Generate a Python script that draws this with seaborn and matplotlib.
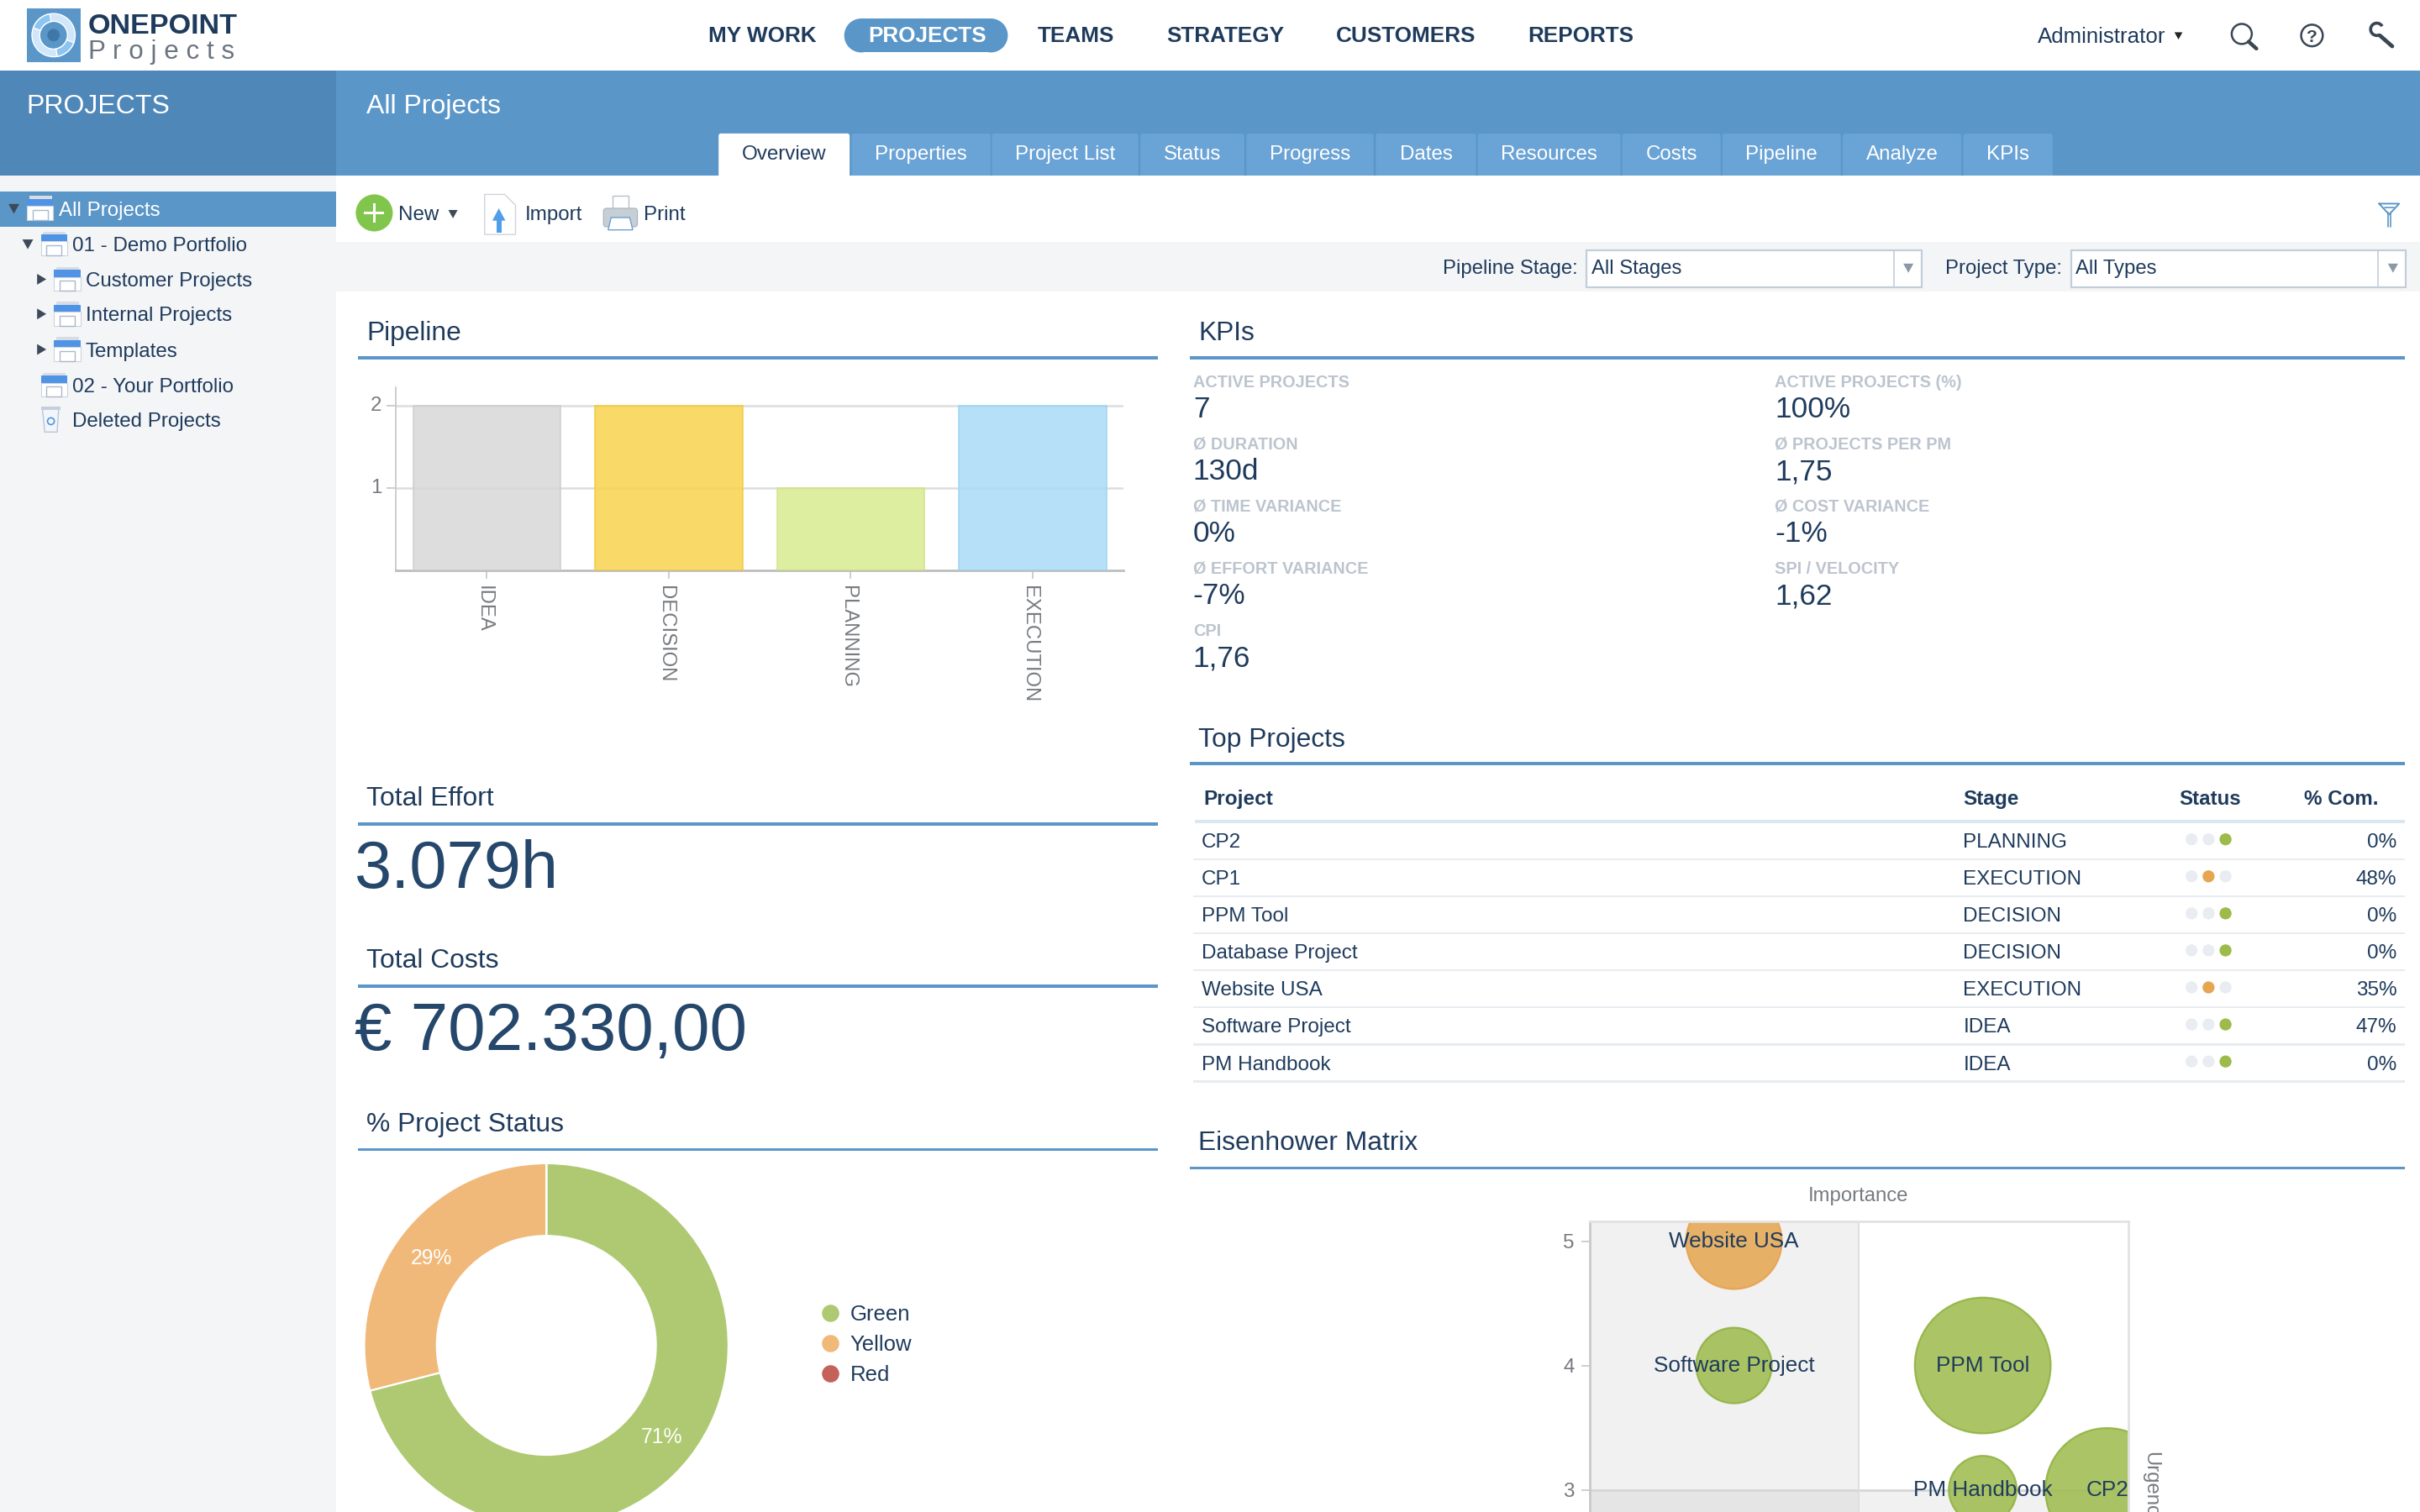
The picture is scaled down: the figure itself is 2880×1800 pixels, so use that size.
import matplotlib
matplotlib.use('Agg')
import matplotlib.pyplot as plt
from matplotlib.lines import Line2D
from matplotlib.patches import Circle, FancyBboxPatch, Polygon, Rectangle, Wedge
from matplotlib.transforms import ScaledTranslation
import pandas as pd
import seaborn as sns

# Chart data
pipeline_stages = ['IDEA', 'DECISION', 'PLANNING', 'EXECUTION']
pipeline_counts = [2, 2, 1, 2]

status_names = ['Green', 'Yellow', 'Red']
status_shares = [71, 29, 0]

matrix_projects = ['Website USA', 'Software Project', 'PPM Tool', 'PM Handbook', 'CP2']
matrix_importance = [2, 2, 4, 4, 5]
matrix_urgency = [5, 4, 4, 3, 3]
matrix_bubble = [31, 24.5, 44, 22, 40]
matrix_status = ['Yellow', 'Green', 'Green', 'Green', 'Green']

table_projects = ['CP2', 'CP1', 'PPM Tool', 'Database Project', 'Website USA', 'Software Project', 'PM Handbook']
table_stages = ['PLANNING', 'EXECUTION', 'DECISION', 'DECISION', 'EXECUTION', 'IDEA', 'IDEA']
table_status = ['Green', 'Yellow', 'Green', 'Green', 'Yellow', 'Green', 'Green']
table_complete = ['0%', '48%', '0%', '0%', '35%', '47%', '0%']

kpi_left_labels = ['ACTIVE PROJECTS', 'Ø DURATION', 'Ø TIME VARIANCE', 'Ø EFFORT VARIANCE', 'CPI']
kpi_left_values = ['7', '130d', '0%', '-7%', '1,76']
kpi_right_labels = ['ACTIVE PROJECTS (%)', 'Ø PROJECTS PER PM', 'Ø COST VARIANCE', 'SPI / VELOCITY']
kpi_right_values = ['100%', '1,75', '-1%', '1,62']

nav_items = ['MY WORK', 'PROJECTS', 'TEAMS', 'STRATEGY', 'CUSTOMERS', 'REPORTS']
tab_names = ['Overview', 'Properties', 'Project List', 'Status', 'Progress', 'Dates',
             'Resources', 'Costs', 'Pipeline', 'Analyze', 'KPIs']
tree_items = ['All Projects', '01 - Demo Portfolio', 'Customer Projects', 'Internal Projects',
              'Templates', '02 - Your Portfolio', 'Deleted Projects']

# Layout is measured on a 1568 x 980 grid, same ratio as the output
W, H = 1568, 980
NAVY = '#1f3b5c'
BLUE = '#5a96c8'
GREY = '#777b80'

sns.set_theme(style='white')
plt.rcParams['font.family'] = ['Liberation Sans', 'DejaVu Sans']

fig = plt.figure(figsize=(14.4, 9), dpi=200, facecolor='white')
bg = fig.add_axes([0, 0, 1, 1])
bg.set_xlim(0, W)
bg.set_ylim(H, 0)
bg.axis('off')


def axes_at(x0, y0, x1, y1):
    return fig.add_axes([x0 / W, 1 - y1 / H, (x1 - x0) / W, (y1 - y0) / H])


def label(x, y, s, size=8.7, color=NAVY, weight='normal', ha='left'):
    # y is the visual middle of the capitals
    bg.text(x, y + 0.36 * size / 0.661, s, fontsize=size, color=color, fontweight=weight,
            ha=ha, va='baseline')


def box(x0, y0, x1, y1, color, **kw):
    bg.add_patch(Rectangle((x0, y0), x1 - x0, y1 - y0, facecolor=color, edgecolor='none', **kw))


def heading(text, x0, x1, y_text, y_rule):
    label(x0 + 5.5, y_text, text, size=11.45)
    box(x0, y_rule - 1, x1, y_rule + 1, BLUE)


def folder(x, y):
    box(x + 1.5, y, x + 16, y + 3, '#d9dde3')
    box(x, y + 2, x + 17, y + 6.5, '#4f93e6')
    bg.add_patch(Rectangle((x, y + 6.5), 17, 9, facecolor='white', edgecolor='#ccd3dc', lw=0.4))
    bg.add_patch(Rectangle((x + 3.5, y + 9), 10, 6.5, facecolor='none', edgecolor='#a9b9cc', lw=0.5))


def triangle(x, y, down=True, color='#3d4a59', s=3.5):
    if down:
        pts = [(x - s, y - s * 0.8), (x + s, y - s * 0.8), (x, y + s)]
    else:
        pts = [(x - s * 0.7, y - s), (x - s * 0.7, y + s), (x + s, y)]
    bg.add_patch(Polygon(pts, facecolor=color, edgecolor='none'))


def nudge(tick_label, dx, dy):
    # shift a tick label by grid units
    shift = ScaledTranslation(dx * 14.4 / W, -dy * 9 / H, fig.dpi_scale_trans)
    tick_label.set_transform(tick_label.get_transform() + shift)


# Page backgrounds
box(0, 46, W, 114, BLUE)
box(0, 46, 218, 114, '#4f88b8')
box(0, 114, 218, H, '#f4f5f7')
box(218, 157, W, 189, '#f4f5f7')

# Logo
box(17.4, 5.4, 52, 40.3, BLUE)
bg.add_patch(Wedge((34.7, 22.8), 14, 0, 360, width=5, facecolor='#cfe6fb', edgecolor='white', lw=0.5))
bg.add_patch(Wedge((34.7, 22.8), 14, 20, 80, width=5, facecolor='#8cc4f2', edgecolor='white', lw=0.5))
bg.add_patch(Wedge((34.7, 22.8), 14, 200, 260, width=5, facecolor='#8cc4f2', edgecolor='white', lw=0.5))
bg.add_patch(Circle((34.7, 22.8), 4, facecolor='#3f78a8', edgecolor='none'))
label(57, 15, 'ONEPOINT', size=12.3, weight='bold')
label(57, 32, 'P r o j e c t s', size=11.3, color='#6b7480')

# Top navigation
nav_centers = [494, 601, 697, 794, 911, 1024]
box(558, 12, 642, 34, BLUE)
bg.add_patch(Circle((558, 23), 11, facecolor=BLUE, edgecolor='none'))
bg.add_patch(Circle((642, 23), 11, facecolor=BLUE, edgecolor='none'))
for name, cx in zip(nav_items, nav_centers):
    label(cx, 22, name, size=9.4, weight='bold', color='white' if name == 'PROJECTS' else NAVY, ha='center')

label(1320, 22.5, 'Administrator', size=9.3)
triangle(1411.5, 23, color='#222222', s=2.6)
bg.add_patch(Circle((1452.5, 22), 6.5, facecolor='none', edgecolor='#3a4654', lw=0.9))
bg.add_line(Line2D([1457, 1462], [27, 31.5], color='#3a4654', lw=1.6))
bg.add_patch(Circle((1498, 23), 7, facecolor='none', edgecolor='#3a4654', lw=0.9))
label(1498, 23, '?', size=7.5, color='#3a4654', weight='bold', ha='center')
bg.add_patch(Wedge((1540, 19), 5, 60, 330, width=2, facecolor='#3a4654', edgecolor='none'))
bg.add_line(Line2D([1542, 1550], [23, 30], color='#3a4654', lw=1.7))

# Blue band and tabs
label(17, 67, 'PROJECTS', size=11.5, color='white')
label(237.5, 67, 'All Projects', size=11.5, color='white')
tab_edges = [(465.6, 550.5), (551.8, 641.8), (642.7, 737.6), (738.9, 806.3), (807.5, 890), (891.4, 956.4),
             (957.5, 1050), (1051, 1114.9), (1116, 1192.8), (1194, 1270.8), (1272, 1330)]
for i, (name, (x0, x1)) in enumerate(zip(tab_names, tab_edges)):
    bg.add_patch(FancyBboxPatch((x0, 86.5), x1 - x0, 30, boxstyle='round,pad=0,rounding_size=1.5',
                                facecolor='white' if i == 0 else '#6aa3d5', edgecolor='none'))
    label((x0 + x1) / 2, 98.7, name, size=8.7, color=NAVY if i == 0 else 'white', ha='center')
box(218, 114, W, 157, 'white')

# Project tree
box(0, 124, 218, 147, BLUE)
tree_rows = [135, 158, 181, 203.5, 226.5, 249.5, 272]
tree_text_x = [38, 47, 55.5, 55.5, 55.5, 47, 47]
for name, y, x in zip(tree_items, tree_rows, tree_text_x):
    label(x, y, name, size=8.7, color='white' if name == 'All Projects' else NAVY)
    if name == 'Deleted Projects':
        bg.add_patch(Polygon([(27.5, y - 7), (38, y - 7), (37, y + 8), (29, y + 8)], facecolor='#f2f6fb',
                             edgecolor='#b8c6d6', lw=0.5))
        box(26.5, y - 8.5, 39, y - 6.5, '#c4cfdb')
        bg.add_patch(Circle((33, y + 1), 2.2, facecolor='none', edgecolor='#4f93e6', lw=0.6))
    else:
        folder(x - 20.5, y - 8)
triangle(9, 135)
triangle(18, 158)
for y in tree_rows[2:5]:
    triangle(26.5, y, down=False)

# Toolbar
bg.add_patch(Circle((242.5, 138), 12, facecolor='#80c64c', edgecolor='none'))
box(236, 137, 249, 139, 'white')
box(241.5, 131.5, 243.5, 144.5, 'white')
label(258, 138, 'New')
triangle(293.5, 138.5, s=3)
bg.add_patch(Polygon([(314, 126), (327, 126), (334, 133), (334, 152), (314, 152)], facecolor='white',
                     edgecolor='#cfd4da', lw=0.5))
bg.add_patch(Polygon([(319, 143), (327.5, 143), (323.2, 135)], facecolor='#4f9fe8', edgecolor='none'))
box(321.8, 142, 324.8, 151, '#4f9fe8')
label(340, 138, 'Import')
box(397, 127, 407, 136, 'white')
bg.add_patch(Rectangle((397, 127), 10, 9, facecolor='white', edgecolor='#b9c0c8', lw=0.5))
bg.add_patch(FancyBboxPatch((391, 135), 22, 12, boxstyle='round,pad=0,rounding_size=2', facecolor='#c6ced6',
                            edgecolor='#a9b2bc', lw=0.4))
bg.add_patch(Polygon([(396, 141), (408, 141), (410, 149), (394, 149)], facecolor='white', edgecolor='#6a9fd3', lw=0.5))
label(417, 138, 'Print')
for dx in [0, 1.6]:
    bg.add_line(Line2D([1547.2 + dx, 1547.2 + dx], [138, 147], color=BLUE, lw=0.6))
bg.add_line(Line2D([1541.5, 1548, 1554.5, 1541.5], [132, 139, 132, 132], color=BLUE, lw=0.7))
bg.add_line(Line2D([1545, 1551], [134.5, 134.5], color=BLUE, lw=0.6))

# Filter row
label(1022.5, 172.7, 'Pipeline Stage:', size=8.6, ha='right')
label(1336, 172.7, 'Project Type:', size=8.6, ha='right')
for x0, x1, text in [(1028, 1245, 'All Stages'), (1342, 1559, 'All Types')]:
    bg.add_patch(Rectangle((x0, 162), x1 - x0, 24, facecolor='white', edgecolor='#c3cedb', lw=0.8))
    bg.add_line(Line2D([x1 - 18, x1 - 18], [162, 186], color='#c3cedb', lw=0.6))
    label(x0 + 3, 172.7, text, size=8.6)
    triangle(x1 - 8.5, 173.5, color='#8b98a8', s=3.3)

# Section headings
heading('Pipeline', 232, 750, 214, 232)
heading('Total Effort', 232, 750, 516, 534)
heading('Total Costs', 232, 750, 621, 639)
heading('% Project Status', 232, 750, 727, 745)
heading('KPIs', 771, 1558, 214, 232)
heading('Top Projects', 771, 1558, 478, 495)
heading('Eisenhower Matrix', 771, 1558, 739, 757)

label(230, 560, '3.079h', size=28.6, color='#25476b')
label(230, 665, '€ 702.330,00', size=28.8, color='#25476b')

# KPIs
for i, (name, value) in enumerate(zip(kpi_left_labels, kpi_left_values)):
    label(773, 247 + i * 40.3, name, size=7.15, weight='bold', color='#bcc4ce')
    label(773, 263.8 + i * 40.3, value, size=12.7)
for i, (name, value) in enumerate(zip(kpi_right_labels, kpi_right_values)):
    label(1150, 247 + i * 40.3, name, size=7.15, weight='bold', color='#bcc4ce')
    label(1150, 263.8 + i * 40.3, value, size=12.7)

# Top projects table
label(780, 517, 'Project', size=8.8, weight='bold')
label(1272, 517, 'Stage', size=8.8, weight='bold')
label(1412, 517, 'Status', size=8.7, weight='bold')
label(1493, 517, '% Com.', size=8.7, weight='bold')
box(774, 531.5, 1558, 533.5, '#dce6f0')
dot_colors = {'Green': '#9dbb4b', 'Yellow': '#e5a64f'}
for i, (name, stage, status, done) in enumerate(zip(table_projects, table_stages, table_status, table_complete)):
    y = 545 + i * 24
    label(778.5, y - 0.4, name, size=8.75)
    label(1272, y - 0.4, stage, size=8.75)
    label(1553, y - 0.4, done, size=8.75, ha='right')
    lit = 2 if status == 'Green' else 1
    for k, dot_x in enumerate([1420, 1431, 1442]):
        bg.add_patch(Circle((dot_x, y - 1), 3.9, facecolor=dot_colors[status] if k == lit else '#e9ecf1',
                            edgecolor='none'))
    box(773, y + 11.2, 1558, y + 12.6, '#e8ecf0')

# Pipeline bar chart
pipeline_df = pd.DataFrame({'stage': pipeline_stages, 'count': pipeline_counts})
bar_colors = ['#d8d8d8', '#f8d34e', '#d9eb8f', '#a8dbf7']
bar_edges = ['#cccccc', '#f2c83e', '#cfe285', '#9bd3f2']
ax = axes_at(256.5, 251, 728, 369.5)
ax.patch.set_alpha(0)
sns.barplot(data=pipeline_df, x='stage', y='count', hue='stage', palette=bar_colors, width=0.81,
            saturation=1, alpha=0.85, dodge=False, legend=False, ax=ax, zorder=3)
for patch, edge in zip(ax.patches, bar_edges):
    patch.set_edgecolor(edge)
    patch.set_linewidth(0.6)
ax.set_xlim(-0.5, 3.5)
ax.set_ylim(0, 2.22)
ax.set_yticks([1, 2])
ax.set_xlabel('')
ax.set_ylabel('')
ax.yaxis.grid(True, color='#dddddd', lw=0.9, zorder=0)
ax.set_axisbelow(True)
for side in ['top', 'right']:
    ax.spines[side].set_visible(False)
ax.spines['left'].set_color('#c6c6c6')
ax.spines['left'].set_linewidth(0.6)
ax.spines['bottom'].set_color('#bdbdbd')
ax.spines['bottom'].set_linewidth(1.0)
ax.tick_params(axis='y', left=True, length=4, width=0.6, color='#c6c6c6', labelsize=8.7, labelcolor=GREY, pad=2)
ax.tick_params(axis='x', bottom=True, length=3.5, width=0.6, color='#c6c6c6', labelsize=8.6, labelcolor=GREY, pad=3)
for tick in ax.get_xticklabels():
    tick.set_rotation(-90)
    tick.set_ha('center')
    tick.set_va('top')
    nudge(tick, -2, 0)
for tick in ax.get_yticklabels():
    nudge(tick, 0, -1)

# Project status donut
donut_colors = ['#aec971', '#f0b97a', '#c4625a']
ax = axes_at(354 - 120, 872 - 120, 354 + 120, 872 + 120)
ax.patch.set_alpha(0)
wedges, texts, autotexts = ax.pie(status_shares, colors=donut_colors, startangle=90, counterclock=False,
                                  radius=118 / 120, autopct=lambda p: f'{p:.0f}%' if p > 0 else '',
                                  pctdistance=0.8, wedgeprops={'width': 47 / 120, 'edgecolor': 'white', 'linewidth': 0.8})
for t in autotexts:
    t.set_color('white')
    t.set_fontsize(8.9)
    t.set_y(t.get_position()[1] - 0.0125)
ax.set_xlim(-1, 1)
ax.set_ylim(-1, 1)
handles = [Line2D([], [], linestyle='none', marker='o', markersize=6.4, color=c) for c in donut_colors]
ax.legend(handles, status_names, loc='center left', bbox_to_anchor=(531 / W, 1 - 871.5 / H),
          bbox_transform=fig.transFigure, frameon=False, fontsize=9.25, labelcolor=NAVY, borderpad=0,
          borderaxespad=0, handlelength=1, handletextpad=0.42, labelspacing=0.47)

# Eisenhower matrix bubbles, the lower part runs off the page
matrix_df = pd.DataFrame({'project': matrix_projects, 'importance': matrix_importance, 'urgency': matrix_urgency,
                          'bubble': matrix_bubble, 'status': matrix_status})
ax = axes_at(1030, 791.6, 1379, 1139.6)
ax.set_xlim(0.84, 5.17)
ax.set_ylim(0.84, 5.16)
ax.axvspan(0.84, 3, ymin=0.5, color='#f1f1f1', lw=0, zorder=0)
ax.axvspan(0.84, 3, ymax=0.5, color='#e5e5e5', lw=0, zorder=0)
ax.axvspan(3, 5.17, ymax=0.5, color='#f1f1f1', lw=0, zorder=0)
ax.axhline(3, color='#d6d6d6', lw=1.0, zorder=1)
ax.axvline(3, color='#dedede', lw=0.7, zorder=1)
sns.scatterplot(data=matrix_df, x='importance', y='urgency', hue='status', size='bubble',
                sizes={b: (2 * b * 0.661) ** 2 for b in matrix_bubble},
                palette={'Green': '#9dbb4b', 'Yellow': '#e5a64f'}, alpha=0.85, legend=False, ax=ax, zorder=2)
point_edges = {'Green': '#8fb13f', 'Yellow': '#e8a04d'}
ax.collections[-1].set_edgecolor([point_edges[s] for s in matrix_status])
ax.collections[-1].set_linewidth(0.8)
for _, row in matrix_df.iterrows():
    ax.text(row['importance'], row['urgency'] - 0.005, row['project'], fontsize=9.4, color=NAVY,
            ha='center', va='center', zorder=3)
ax.set_xlabel('')
ax.set_ylabel('')
ax.set_xticks([])
ax.set_yticks([3, 4, 5])
ax.tick_params(axis='y', left=True, length=3.5, width=0.6, color='#c6c6c6', labelsize=8.7, labelcolor=GREY, pad=3)
for spine in ax.spines.values():
    spine.set_color('#e2e2e2')
    spine.set_linewidth(1.0)
ax.spines['left'].set_color('#c9c9c9')
ax.text(1204, 775.5, 'Importance', transform=bg.transData, fontsize=8.6, color=GREY, ha='center', va='center')
ax.text(1393.5, 941, 'Urgency', transform=bg.transData, fontsize=8.6, color=GREY, rotation=-90,
        ha='center', va='top', clip_on=False)

fig.savefig('out.png', dpi=200)
